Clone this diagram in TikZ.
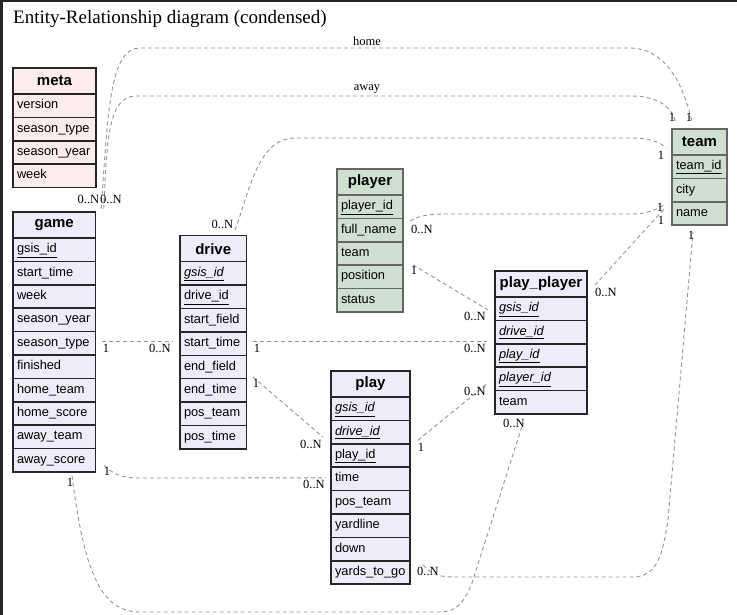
\documentclass[tikz,border=0pt]{standalone}
\usepackage{fontspec}
\setmainfont{Liberation Sans}
\newfontfamily\erserif{Liberation Serif}
\usetikzlibrary{positioning}
\definecolor{metafill}{RGB}{252,236,236}
\definecolor{gamefill}{RGB}{236,236,250}
\definecolor{teamfill}{RGB}{208,224,208}
\newcommand{\erpk}[1]{\underline{#1}}
\newcommand{\erfk}[1]{\underline{\textit{#1}}}
\tikzset{
	tblhead/.style={draw=black!85,line width=1.5pt,outer sep=0pt,inner xsep=4pt,inner ysep=0pt,minimum height=26pt,anchor=north west,align=center,font=\fontsize{15}{15}\selectfont\bfseries},
	tblrow/.style={draw=black!85,line width=1.5pt,outer sep=0pt,inner xsep=4pt,inner ysep=0pt,minimum height=23.4pt,text height=9pt,text depth=3pt,align=left,font=\fontsize{12.8}{12.8}\selectfont,below=0pt of #1},
	metacol/.style={fill=metafill,text width=75pt},
	gamecol/.style={fill=gamefill,text width=74.5pt},
	drivecol/.style={fill=gamefill,text width=58.5pt},
	playercol/.style={fill=teamfill,draw=black!60,text width=58pt},
	playcol/.style={fill=gamefill,text width=71pt},
	ppcol/.style={fill=gamefill,text width=84pt},
	teamcol/.style={fill=teamfill,draw=black!60,text width=47pt},
	rel/.style={draw=black!42,line width=0.9pt,dash pattern=on 4pt off 3pt},
	card/.style={inner sep=0pt,font=\erserif\fontsize{12.5}{12.5}\selectfont}
}
\begin{document}
\begin{tikzpicture}[x=1pt,y=-1pt]
	\useasboundingbox (0,0) rectangle (737,615);
	\fill[black!85] (0,0) rectangle (3,615);
	\fill[black!85] (0,0) rectangle (737,2);
	\node[anchor=west,inner sep=0pt,font=\erserif\fontsize{19}{19}\selectfont] (title) at (13,19) {Entity-Relationship diagram (condensed)};

	\node[tblhead,metacol] (meta) at (13,68) {meta};
	\node[tblrow=meta,metacol] (mversion) {version};
	\node[tblrow=mversion,metacol] (mseasontype) {season\_type};
	\node[tblrow=mseasontype,metacol] (mseasonyear) {season\_year};
	\node[tblrow=mseasonyear,metacol] (mweek) {week};

	\node[tblhead,gamecol] (game) at (13,212) {game};
	\node[tblrow=game,gamecol] (ggsis) {\erpk{gsis\_id}};
	\node[tblrow=ggsis,gamecol] (gstarttime) {start\_time};
	\node[tblrow=gstarttime,gamecol] (gweek) {week};
	\node[tblrow=gweek,gamecol] (gseasonyear) {season\_year};
	\node[tblrow=gseasonyear,gamecol] (gseasontype) {season\_type};
	\node[tblrow=gseasontype,gamecol] (gfinished) {finished};
	\node[tblrow=gfinished,gamecol] (ghometeam) {home\_team};
	\node[tblrow=ghometeam,gamecol] (ghomescore) {home\_score};
	\node[tblrow=ghomescore,gamecol] (gawayteam) {away\_team};
	\node[tblrow=gawayteam,gamecol] (gawayscore) {away\_score};

	\node[tblhead,drivecol] (drive) at (180,235.7) {drive};
	\node[tblrow=drive,drivecol] (dgsis) {\erfk{gsis\_id}};
	\node[tblrow=dgsis,drivecol] (ddriveid) {\erpk{drive\_id}};
	\node[tblrow=ddriveid,drivecol] (dstartfield) {start\_field};
	\node[tblrow=dstartfield,drivecol] (dstarttime) {start\_time};
	\node[tblrow=dstarttime,drivecol] (dendfield) {end\_field};
	\node[tblrow=dendfield,drivecol] (dendtime) {end\_time};
	\node[tblrow=dendtime,drivecol] (dposteam) {pos\_team};
	\node[tblrow=dposteam,drivecol] (dpostime) {pos\_time};

	\node[tblhead,playercol] (player) at (337,169) {player};
	\node[tblrow=player,playercol] (pplayerid) {\erpk{player\_id}};
	\node[tblrow=pplayerid,playercol] (pfullname) {full\_name};
	\node[tblrow=pfullname,playercol] (pteam) {team};
	\node[tblrow=pteam,playercol] (pposition) {position};
	\node[tblrow=pposition,playercol] (pstatus) {status};

	\node[tblhead,playcol] (play) at (331,371) {play};
	\node[tblrow=play,playcol] (plgsis) {\erfk{gsis\_id}};
	\node[tblrow=plgsis,playcol] (pldriveid) {\erfk{drive\_id}};
	\node[tblrow=pldriveid,playcol] (plplayid) {\erpk{play\_id}};
	\node[tblrow=plplayid,playcol] (pltime) {time};
	\node[tblrow=pltime,playcol] (plposteam) {pos\_team};
	\node[tblrow=plposteam,playcol] (plyardline) {yardline};
	\node[tblrow=plyardline,playcol] (pldown) {down};
	\node[tblrow=pldown,playcol] (plyards) {yards\_to\_go};

	\node[tblhead,ppcol] (pp) at (495,271) {play\_player};
	\node[tblrow=pp,ppcol] (ppgsis) {\erfk{gsis\_id}};
	\node[tblrow=ppgsis,ppcol] (ppdriveid) {\erfk{drive\_id}};
	\node[tblrow=ppdriveid,ppcol] (ppplayid) {\erfk{play\_id}};
	\node[tblrow=ppplayid,ppcol] (ppplayerid) {\erfk{player\_id}};
	\node[tblrow=ppplayerid,ppcol] (ppteam) {team};

	\node[tblhead,teamcol] (team) at (672,129) {team};
	\node[tblrow=team,teamcol] (tteamid) {\erpk{team\_id}};
	\node[tblrow=tteamid,teamcol] (tcity) {city};
	\node[tblrow=tcity,teamcol] (tname) {name};

	\draw[rel] ([shift={(5.7,-3)}]game.north east) .. controls (108,110) and (110,48) .. (140,48) -- (630,48) .. controls (668,48) and (685,90) .. ([shift={(-7.5,-7)}]team.north);
	\draw[rel] ([shift={(8.2,-3)}]game.north east) .. controls (107,140) and (108,96) .. (136,96) -- (630,96) .. controls (660,96) and (672,108) .. ([shift={(4,-6)}]team.north west);
	\draw[rel] ([shift={(-11.5,-5.7)}]drive.north east) .. controls (250,190) and (258,138) .. (295,138) -- (630,138) .. controls (650,138) and (660,142) .. ([shift={(-6,6)}]team.west);
	\draw[rel] ([shift={(7,-9)}]pfullname.east) .. controls (420,215) and (430,214) .. (450,214) -- (630,214) .. controls (648,214) and (655,210) .. ([shift={(-8,-8.5)}]tname.west);
	\draw[rel] ([shift={(8,1)}]pp.east) -- ([shift={(-8,-4.5)}]tname.west);
	\draw[rel] ([shift={(6.5,-1.8)}]gseasontype.east) -- ([shift={(-7,-2.1)}]dstarttime.west);
	\draw[rel] ([shift={(6.5,-2.1)}]dstarttime.east) -- ([shift={(-8,9.4)}]ppdriveid.west);
	\draw[rel] ([shift={(6.5,10)}]dendfield.east) -- ([shift={(-8,5)}]pldriveid.west);
	\draw[rel] ([shift={(10,-12)}]pposition.east) -- ([shift={(-7,1.3)}]ppgsis.west);
	\draw[rel] ([shift={(8,8)}]pldriveid.east) -- ([shift={(-8,5)}]ppplayerid.west);
	\draw[rel] ([shift={(8.5,5.3)}]gawayscore.east) .. controls (114,474) and (120,478) .. (140,478) -- ([shift={(-5,-1)}]pltime.west);
	\draw[rel] ([shift={(17.75,3.6)}]gawayscore.south) .. controls (84,570) and (100,612) .. (140,612) -- (440,612) .. controls (458,612) and (465,600) .. (472,583) -- ([shift={(-18,9)}]ppteam.south);
	\draw[rel] ([shift={(13,-7.5)}]plyards.east) .. controls (432,575) and (440,577) .. (455,577) -- (632,577) .. controls (655,577) and (662,560) .. (668,520) -- ([shift={(-6.5,7)}]tname.south);

	\node[card] (1) at (367,41) {home};
	\node[card] (2) at (367,89) {away};
	\node[card] (3) at (88.5,199) {0..N};
	\node[card] (4) at (111,199) {0..N};
	\node[card] (5) at (222.5,224) {0..N};
	\node[card] (6) at (672,117) {1};
	\node[card] (7) at (689,117) {1};
	\node[card] (8) at (661,155) {1};
	\node[card] (9) at (660,207) {1};
	\node[card] (10) at (661,220) {1};
	\node[card] (11) at (691,235) {1};
	\node[card] (12) at (422,229) {0..N};
	\node[card] (13) at (606,292) {0..N};
	\node[card] (14) at (106,348) {1};
	\node[card] (15) at (160,348) {0..N};
	\node[card] (16) at (257,348) {1};
	\node[card] (17) at (475,348) {0..N};
	\node[card] (18) at (256,383) {1};
	\node[card] (19) at (311,444) {0..N};
	\node[card] (20) at (414,270) {1};
	\node[card] (21) at (475,316) {0..N};
	\node[card] (22) at (421,447) {1};
	\node[card] (23) at (475,391) {0..N};
	\node[card] (24) at (107,471) {1};
	\node[card] (25) at (314,484) {0..N};
	\node[card] (26) at (70,482) {1};
	\node[card] (27) at (514,423) {0..N};
	\node[card] (28) at (428,571) {0..N};
\end{tikzpicture}
\end{document}
